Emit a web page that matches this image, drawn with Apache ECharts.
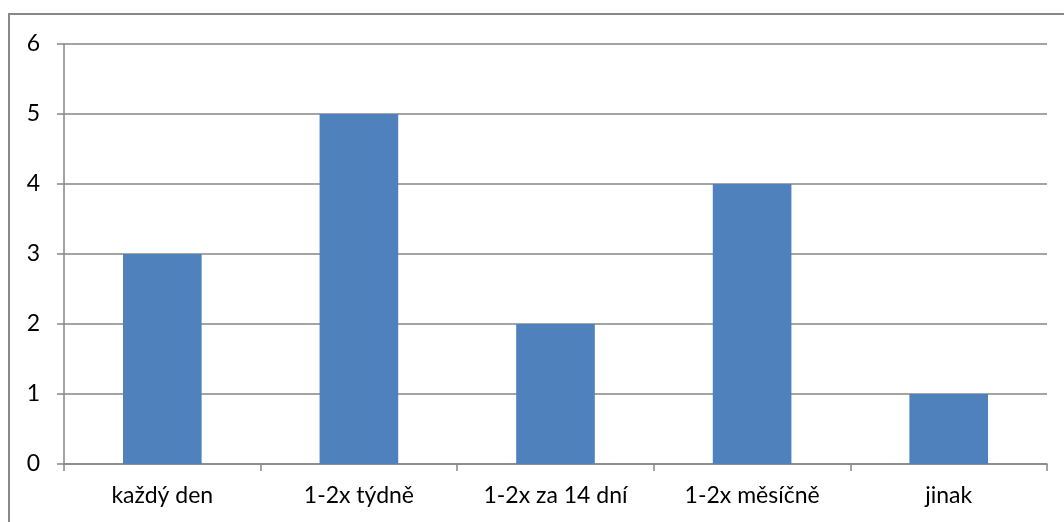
<!DOCTYPE html>
<html><head><meta charset="utf-8">
<script src="https://cdn.jsdelivr.net/npm/echarts@6/dist/echarts.min.js"></script>
<style>html,body{margin:0;padding:0;background:#fff}#c{width:1064px;height:522px}</style>
</head><body><div id="c"></div>
<script>
const categories = ['každý den', '1-2x týdně', '1-2x za 14 dní', '1-2x měsíčně', 'jinak'];
const values = [3, 5, 2, 4, 1];
const yTicks = [0, 1, 2, 3, 4, 5, 6];

const chart = echarts.init(document.getElementById('c'));
chart.setOption({
  animation: false,
  graphic: [{
    type: 'rect', shape: {x: 9, y: 14, width: 1070, height: 520},
    style: {fill: 'none', stroke: '#898989', lineWidth: 2}, silent: true
  }],
  grid: {left: 64, right: 17, top: 44, bottom: 58, containLabel: false},
  xAxis: {
    type: 'category', data: categories,
    axisLine: {lineStyle: {color: '#868686', width: 1.5}},
    axisTick: {show: true, length: 7, lineStyle: {color: '#868686', width: 1.5}, alignWithLabel: false},
    axisLabel: {color: '#000', fontFamily: 'Lato', fontSize: 23, margin: 20}
  },
  yAxis: {
    type: 'value', min: yTicks[0], max: yTicks[yTicks.length-1], interval: 1,
    axisLine: {show: true, lineStyle: {color: '#868686', width: 1.5}},
    axisTick: {show: true, length: 7, lineStyle: {color: '#868686', width: 1.5}},
    splitLine: {lineStyle: {color: '#868686', width: 1.5}},
    axisLabel: {color: '#000', fontFamily: 'Lato', fontSize: 23, margin: 24}
  },
  series: [{
    type: 'bar', data: values, barWidth: '40%',
    itemStyle: {color: '#4F81BD'}
  }]
});
</script></body></html>
